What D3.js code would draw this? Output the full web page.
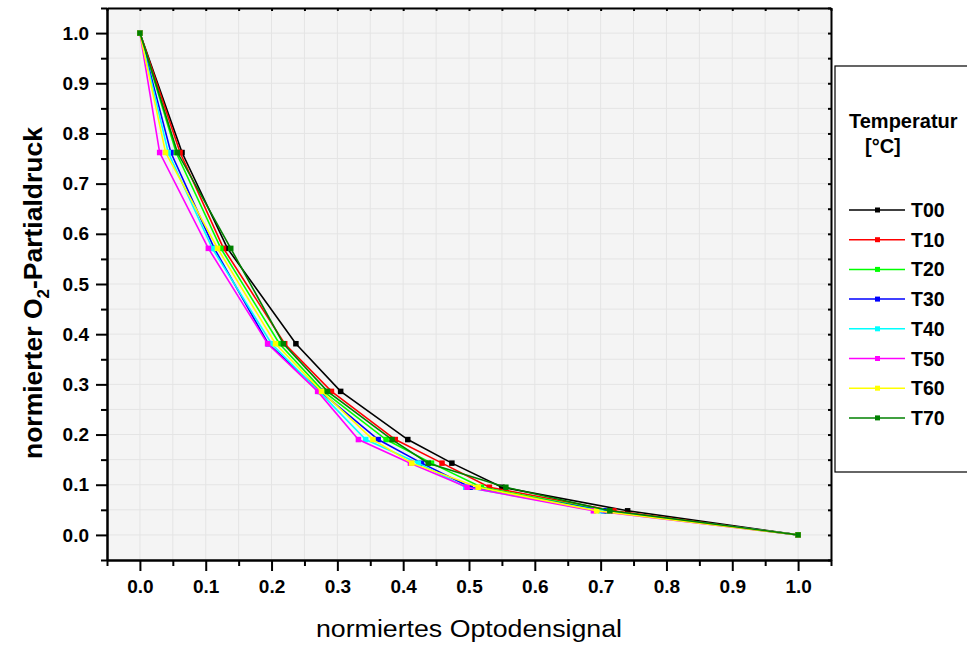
<!DOCTYPE html>
<html>
<head>
<meta charset="utf-8">
<script src="https://cdn.jsdelivr.net/npm/d3@7"></script>
<style>
  body { margin: 0; background: #fff; }
  text { font-family: "Liberation Sans", Arial, sans-serif; }
</style>
</head>
<body>
<svg width="967" height="648"></svg>
<script>
// normierter O2-Partialdruck (shared by all series)
var pressure = [1.0, 0.762, 0.571, 0.381, 0.286, 0.190, 0.143, 0.095, 0.048, 0.0];

// normiertes Optodensignal per temperature
var t00 = [0, 0.064, 0.133, 0.237, 0.305, 0.407, 0.474, 0.550, 0.741, 1];
var t10 = [0, 0.061, 0.127, 0.220, 0.291, 0.388, 0.459, 0.531, 0.720, 1];
var t20 = [0, 0.055, 0.123, 0.212, 0.279, 0.374, 0.443, 0.519, 0.710, 1];
var t30 = [0, 0.047, 0.113, 0.195, 0.274, 0.362, 0.428, 0.502, 0.705, 1];
var t40 = [0, 0.043, 0.110, 0.200, 0.272, 0.343, 0.423, 0.495, 0.700, 1];
var t50 = [0, 0.030, 0.104, 0.194, 0.270, 0.332, 0.411, 0.497, 0.689, 1];
var t60 = [0, 0.039, 0.118, 0.206, 0.276, 0.354, 0.413, 0.514, 0.694, 1];
var t70 = [0, 0.057, 0.138, 0.218, 0.285, 0.383, 0.438, 0.556, 0.714, 1];

var names = ["T00", "T10", "T20", "T30", "T40", "T50", "T60", "T70"];
var colours = ["#000000", "#ff0000", "#00ff00", "#0000ff", "#00ffff", "#ff00ff", "#ffff00", "#008000"];
var signals = [t00, t10, t20, t30, t40, t50, t60, t70];

var majorTicks = [0, 0.1, 0.2, 0.3, 0.4, 0.5, 0.6, 0.7, 0.8, 0.9, 1.0];
var minorTicks = [-0.05, 0.05, 0.15, 0.25, 0.35, 0.45, 0.55, 0.65, 0.75, 0.85, 0.95, 1.05];

var svg = d3.select("svg");
var pLeft = 107, pRight = 831, pTop = 8, pBottom = 560;

var x = d3.scaleLinear().domain([-0.05, 1.05]).range([pLeft, pRight]);
var y = d3.scaleLinear().domain([-0.05, 1.05]).range([pBottom, pTop]);
var allTicks = majorTicks.concat(minorTicks);

// plot background + grid
svg.append("rect")
    .attr("x", pLeft).attr("y", pTop)
    .attr("width", pRight - pLeft).attr("height", pBottom - pTop)
    .attr("fill", "#f4f4f4");

var grid = svg.append("g").attr("stroke", "#e4e4e4").attr("stroke-width", 1);
grid.selectAll(".gx").data(allTicks).enter().append("line")
    .attr("x1", function(d){ return x(d); }).attr("x2", function(d){ return x(d); })
    .attr("y1", pTop).attr("y2", pBottom);
grid.selectAll(".gy").data(allTicks).enter().append("line")
    .attr("y1", function(d){ return y(d); }).attr("y2", function(d){ return y(d); })
    .attr("x1", pLeft).attr("x2", pRight);

// series
var line = d3.line()
    .x(function(d){ return x(d[0]); })
    .y(function(d){ return y(d[1]); });

names.forEach(function(name, i){
  var pts = signals[i].map(function(s, j){ return [s, pressure[j]]; });
  svg.append("path")
      .datum(pts)
      .attr("d", line)
      .attr("fill", "none")
      .attr("stroke", colours[i])
      .attr("stroke-width", 1.6);
  svg.selectAll(".m" + i).data(pts).enter().append("rect")
      .attr("x", function(d){ return x(d[0]) - 2.75; })
      .attr("y", function(d){ return y(d[1]) - 2.75; })
      .attr("width", 5.5).attr("height", 5.5)
      .attr("fill", colours[i]);
});

// axes
function styleAxis(g) {
  g.attr("font-family", null).attr("font-size", null);
  g.selectAll("path, line").attr("stroke", "#000").attr("stroke-width", 2);
  g.selectAll("text")
      .attr("fill", "#000")
      .attr("font-size", 19)
      .attr("font-weight", "bold");
}

svg.append("g").attr("transform", "translate(0," + pTop + ")")
    .call(d3.axisTop(x).tickValues(allTicks).tickSize(-3).tickSizeOuter(0).tickFormat(""))
    .call(styleAxis);
svg.append("g").attr("transform", "translate(" + pRight + ",0)")
    .call(d3.axisRight(y).tickValues(allTicks).tickSize(-3).tickSizeOuter(0).tickFormat(""))
    .call(styleAxis);

svg.append("g").attr("transform", "translate(0," + pBottom + ")")
    .call(d3.axisBottom(x).tickValues(minorTicks).tickSize(6).tickSizeOuter(0).tickFormat(""))
    .call(styleAxis);
svg.append("g").attr("transform", "translate(0," + pBottom + ")")
    .call(d3.axisBottom(x).tickValues(majorTicks).tickSize(11).tickSizeOuter(0)
      .tickPadding(9).tickFormat(d3.format(".1f")))
    .call(styleAxis);

svg.append("g").attr("transform", "translate(" + pLeft + ",0)")
    .call(d3.axisLeft(y).tickValues(minorTicks).tickSize(6).tickSizeOuter(0).tickFormat(""))
    .call(styleAxis);
svg.append("g").attr("transform", "translate(" + pLeft + ",0)")
    .call(d3.axisLeft(y).tickValues(majorTicks).tickSize(11).tickSizeOuter(0)
      .tickPadding(7).tickFormat(d3.format(".1f")))
    .call(styleAxis);

// axis titles
svg.append("text")
    .attr("x", 469).attr("y", 637)
    .attr("text-anchor", "middle")
    .attr("textLength", 306).attr("lengthAdjust", "spacingAndGlyphs")
    .style("font-size", "23px")
    .text("normiertes Optodensignal");

var yt = svg.append("text")
    .attr("transform", "translate(42,293) rotate(-90)")
    .attr("text-anchor", "middle")
    .style("font-size", "26.5px")
    .style("font-weight", "bold");
yt.append("tspan").text("normierter O");
yt.append("tspan").attr("dy", 7).style("font-size", "17px").text("2");
yt.append("tspan").attr("dy", -7).text("-Partialdruck");

// legend
var lg = svg.append("g");
lg.append("rect")
    .attr("x", 835).attr("y", 66)
    .attr("width", 200).attr("height", 406)
    .attr("fill", "#fff").attr("stroke", "#000").attr("stroke-width", 1.2);
lg.append("text").attr("x", 849).attr("y", 128)
    .style("font-size", "20px").style("font-weight", "bold")
    .text("Temperatur");
lg.append("text").attr("x", 865).attr("y", 153)
    .style("font-size", "20px").style("font-weight", "bold")
    .text("[°C]");

var item = lg.selectAll(".item").data(names).enter().append("g")
    .attr("transform", function(d, i){ return "translate(0," + (210 + i * 29.7) + ")"; });
item.append("line")
    .attr("x1", 849).attr("x2", 905)
    .attr("stroke", function(d, i){ return colours[i]; })
    .attr("stroke-width", 1.5);
item.append("rect")
    .attr("x", 875).attr("y", -2.5).attr("width", 5).attr("height", 5)
    .attr("fill", function(d, i){ return colours[i]; });
item.append("text")
    .attr("x", 911).attr("y", 7)
    .style("font-size", "19.5px").style("font-weight", "bold")
    .text(function(d){ return d; });
</script>
</body>
</html>
